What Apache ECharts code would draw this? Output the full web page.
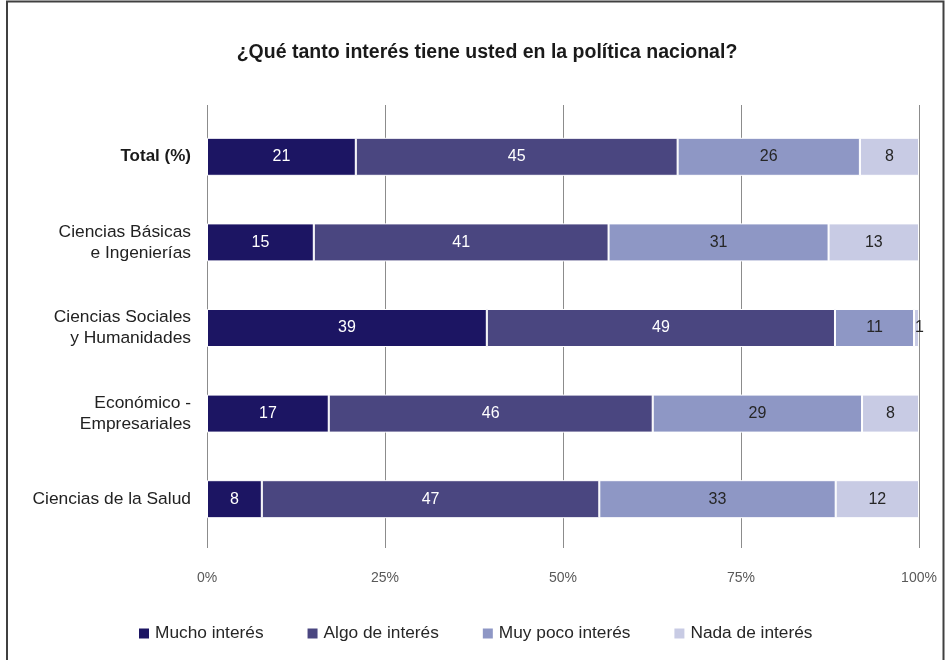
<!DOCTYPE html>
<html><head><meta charset="utf-8">
<script src="https://cdn.jsdelivr.net/npm/echarts@6/dist/echarts.min.js"></script>
<style>html,body{margin:0;padding:0;background:#fff}#c{width:945px;height:660px}</style>
</head><body><div id="c"></div>
<script>
const categories = ['Total (%)', 'Ciencias Básicas\ne Ingenierías', 'Ciencias Sociales\ny Humanidades', 'Económico -\nEmpresariales', 'Ciencias de la Salud'];
const seriesNames = ['Mucho interés', 'Algo de interés', 'Muy poco interés', 'Nada de interés'];
const mucho = [20.9, 15.0, 39.3, 17.1, 7.7];
const algo = [45.2, 41.4, 48.9, 45.5, 47.4];
const muyPoco = [25.6, 30.9, 11.1, 29.4, 33.2];
const nada = [8.3, 12.7, 0.7, 8.0, 11.7];
const xTicks = [0, 25, 50, 75, 100];

const colors = ['#1c1563', '#4a4680', '#8e97c5', '#c8cbe4'];
const labelColors = ['#ffffff', '#ffffff', '#262626', '#262626'];
const FONT = '"Liberation Sans", Arial, sans-serif';
const data = [mucho, algo, muyPoco, nada];

const chart = echarts.init(document.getElementById('c'), null, {renderer: 'canvas'});
const series = seriesNames.map((n, i) => ({
  name: n, type: 'bar', stack: 'all', barWidth: 38,
  xAxisIndex: 0, yAxisIndex: 0,
  data: data[i],
  itemStyle: {color: colors[i], borderColor: '#ffffff', borderWidth: 1},
  label: {show: true, position: 'inside', color: labelColors[i], fontSize: 16, fontFamily: FONT,
    formatter: p => Math.round(p.value)},
  emphasis: {disabled: true}
}));
series[3].data = nada.map(v => v < 3 ? {value: v, label: {position: 'insideLeft', offset: [-4, 0]}} : v);

chart.setOption({
  animation: false,
  backgroundColor: '#ffffff',
  title: {text: '¿Qué tanto interés tiene usted en la política nacional?', left: 482, top: 38, textAlign: 'center',
    textStyle: {fontSize: 19.5, fontWeight: 'bold', color: '#1a1a1a', fontFamily: FONT}},
  legend: {bottom: 13, left: 132, itemWidth: 12, itemHeight: 12, itemGap: 42, icon: 'rect',
    textStyle: {fontSize: 17.3, color: '#262626', fontFamily: FONT}, data: seriesNames},
  grid: [
    {left: 207, right: 26, top: 114, height: 428, outerBoundsMode: 'none'},
    {left: 207, right: 26, top: 105, height: 443, outerBoundsMode: 'none'}
  ],
  xAxis: [
    {gridIndex: 0, type: 'value', min: 0, max: 100, interval: 25, show: false},
    {gridIndex: 1, type: 'value', min: 0, max: 100, interval: 25,
      axisLine: {show: false}, axisTick: {show: false},
      splitLine: {show: true, lineStyle: {color: '#8c8c8c', width: 1}},
      axisLabel: {formatter: v => v + '%', color: '#595959', fontSize: 14, fontFamily: FONT, margin: 23}}
  ],
  yAxis: [
    {gridIndex: 0, type: 'category', data: categories, inverse: true,
      axisLine: {show: false}, axisTick: {show: false},
      axisLabel: {color: '#222222', fontSize: 17.4, fontFamily: FONT, margin: 16, lineHeight: 21, align: 'right',
        formatter: (v, i) => i === 0 ? '{b|' + v + '}' : v,
        rich: {b: {fontWeight: 'bold', fontSize: 17, fontFamily: FONT, color: '#1a1a1a'}}}},
    {gridIndex: 1, type: 'value', show: false, min: 0, max: 1}
  ],
  series: series,
  graphic: [{type: 'polyline', silent: true, shape: {points: [[7, 700], [7, 1.5], [943.5, 1.5], [943.5, 700]]},
    style: {stroke: '#404040', lineWidth: 2, fill: null}}]
});
</script></body></html>
